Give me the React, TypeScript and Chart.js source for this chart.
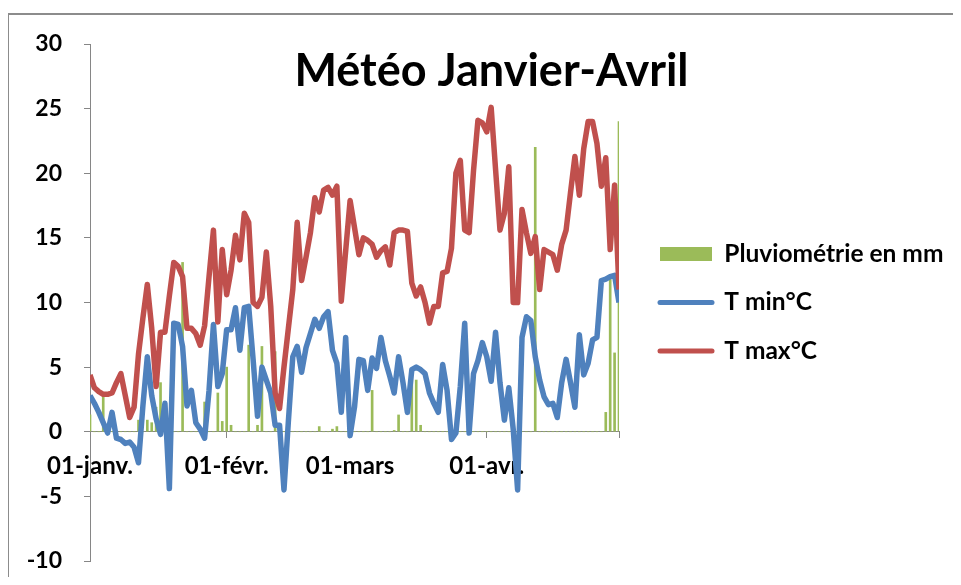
import React, { useEffect, useRef } from 'react';
import { Chart, registerables } from 'chart.js';

Chart.register(...registerables);

// ---- data (day index 0 = 01-janv.) ----
const tickDays = [0, 31, 59, 90, 120];
const tickLabels = ['01-janv.', '01-févr.', '01-mars', '01-avr.', ''];
const seriesNames = ['Pluviométrie en mm', 'T min°C', 'T max°C'];

const rain = [
  1.3, 0, 0, 3.0, 0, 0, 0, 0, 0, 0,
  0, 0.9, 0, 0.9, 0.7, 1.9, 3.8, 0, 0, 0,
  0, 13.1, 0, 0, 0, 0, 2.3, 0, 0, 3.0,
  0.8, 5.0, 0.5, 0, 0, 0, 6.7, 0, 0.5, 6.6,
  0, 0, 6.2, 0, 0, 0, 0, 0, 0, 0,
  0, 0, 0.4, 0, 0, 0.2, 0.4, 0, 0, 0,
  0, 0, 0, 0, 3.2, 0, 0, 0, 0, 0.1,
  1.3, 0, 0, 4.4, 4.0, 0.5, 0, 0, 0, 0,
  0, 0, 0, 0, 0, 0, 0, 0, 0, 0,
  0, 0, 0, 0, 0, 0, 0, 0, 0, 0,
  0, 22.0, 0, 0, 0, 0, 0, 0, 0, 0,
  0, 0, 0, 0, 0, 0, 0, 1.5, 11.9, 6.1,
  24.0,
];

const tmin = [
  2.8, 2.2, 1.5, 0.7, -0.1, 1.5, -0.5, -0.6, -0.9, -0.8,
  -1.2, -2.4, 2.0, 5.8, 2.8, 1.0, -0.2, 2.2, -4.4, 8.4,
  8.3, 6.6, 2.0, 3.2, 0.7, 0.2, -0.5, 3.2, 8.3, 3.5,
  4.5, 7.9, 7.9, 9.6, 6.3, 9.6, 9.7, 5.6, 1.2, 5.0,
  4.0, 3.0, 0.5, 0.5, -4.5, 0.8, 5.8, 6.6, 4.6, 6.5,
  7.6, 8.7, 8.0, 8.9, 9.3, 6.3, 5.3, 1.5, 7.3, -0.3,
  1.9, 5.6, 5.5, 3.2, 5.7, 4.9, 7.3, 5.5, 4.3, 3.0,
  5.8, 3.8, 1.5, 4.8, 5.0, 4.8, 4.5, 3.0, 2.2, 1.5,
  5.2, 3.2, -0.6, -0.1, 3.5, 8.4, -0.1, 4.5, 5.5, 6.9,
  5.8, 3.9, 7.7, 3.8, 0.9, 3.4, 0.2, -4.5, 7.3, 8.9,
  8.6, 5.8, 4.0, 2.7, 2.1, 2.2, 1.1, 3.8, 5.6, 3.8,
  1.9, 7.5, 4.4, 5.3, 7.1, 7.3, 11.7, 11.8, 12.0, 12.1,
  10.0,
];

const tmax = [
  4.4, 3.4, 3.1, 2.9, 2.9, 3.0, 3.8, 4.5, 2.8, 1.1,
  1.9, 6.0, 8.8, 11.4, 8.0, 3.5, 7.7, 7.7, 10.5, 13.1,
  12.8, 12.0, 8.0, 8.0, 7.6, 6.7, 8.2, 12.0, 15.6, 8.5,
  14.1, 10.6, 12.5, 15.2, 13.3, 16.9, 16.2, 10.0, 9.7, 10.4,
  13.9, 9.7, 3.0, 1.8, 5.0, 8.0, 11.0, 16.2, 11.7, 13.5,
  15.4, 18.1, 17.0, 18.7, 18.9, 18.3, 19.0, 10.1, 14.0, 17.9,
  15.8, 13.7, 15.0, 14.8, 14.5, 13.5, 14.0, 14.3, 12.9, 15.4,
  15.6, 15.6, 15.5, 11.5, 10.5, 11.2, 10.0, 8.4, 9.7, 9.7,
  12.3, 12.4, 14.2, 20.0, 21.0, 15.6, 15.4, 20.2, 24.1, 23.9,
  23.2, 25.1, 20.3, 15.6, 16.9, 20.5, 10.0, 10.0, 17.2, 15.4,
  13.8, 15.1, 11.0, 14.1, 13.9, 13.7, 12.5, 14.5, 15.6, 18.5,
  21.3, 18.3, 21.9, 24.0, 24.0, 22.3, 19.0, 21.2, 14.1, 19.1,
  11.0,
];

const VIS_W = 945;
const H = 569;
const FONT = 'Lato';
const titleCenter = 483.5;
const CW = Math.round(2 * titleCenter); // canvas wider than the visible area so the title centre matches

export default function App() {
  const ref = useRef<HTMLCanvasElement>(null);

  useEffect(() => {
    const canvas = ref.current;
    if (!canvas) return;
    const legendSize = 24.5;
    const boxW = 52;
    const legendPad = 24;
    const boxStart = 652;
    const plotLeft = 82;
    const plotRight = 611;

    const mctx = canvas.getContext('2d')!;
    mctx.font = `bold ${legendSize}px ${FONT}`;
    const maxText = Math.max(...seriesNames.map((s) => mctx.measureText(s).width));
    const itemW = boxW + legendSize / 2 + maxText;
    const padRight = Math.max(0, CW - boxStart - 10 - itemW);
    const gap = boxStart - legendPad - plotRight;

    const toXY = (arr: number[]) => arr.map((v, i) => ({ x: i, y: v }));

    const chart = new Chart(canvas, {
      type: 'line',
      data: {
        datasets: [
          {
            type: 'bar',
            label: seriesNames[0],
            data: toXY(rain),
            backgroundColor: '#9BBB59',
            borderWidth: 0,
            barThickness: 2,
            order: 2,
          } as any,
          {
            type: 'line',
            label: seriesNames[1],
            data: toXY(tmin),
            borderColor: '#4F81BD',
            backgroundColor: '#4F81BD',
            pointBorderColor: '#4F81BD',
            borderWidth: 5.5,
            pointRadius: 0,
            tension: 0,
            borderJoinStyle: 'round',
            order: 1,
          },
          {
            type: 'line',
            label: seriesNames[2],
            data: toXY(tmax),
            borderColor: '#C0504D',
            backgroundColor: '#C0504D',
            pointBorderColor: '#C0504D',
            borderWidth: 5.5,
            pointRadius: 0,
            tension: 0,
            borderJoinStyle: 'round',
            order: 0,
          },
        ],
      },
      options: {
        animation: false,
        responsive: false,
        events: [],
        layout: { padding: { left: 0, right: 0, top: 0, bottom: 16 } },
        font: { family: FONT },
        scales: {
          x: {
            type: 'linear',
            min: 0,
            max: 120,
            position: { y: 0 } as any,
            offset: false,
            afterBuildTicks: (s: any) => {
              s.ticks = tickDays.map((v) => ({ value: v }));
            },
            ticks: {
              autoSkip: false,
              maxRotation: 0,
              minRotation: 0,
              color: '#000',
              font: { family: FONT, size: 24, weight: 'bold' },
              padding: 14,
              callback: (v: any) => {
                const k = tickDays.indexOf(Number(v));
                return k >= 0 ? tickLabels[k] : '';
              },
            },
            grid: { drawOnChartArea: false, tickLength: 6, color: '#868686', offset: false },
            border: { color: '#868686', width: 1 },
          },
          y: {
            type: 'linear',
            position: 'left',
            min: -10,
            max: 30,
            ticks: {
              stepSize: 5,
              color: '#000',
              font: { family: FONT, size: 23, weight: 'bold' },
              padding: 22,
              callback: (v: any) => String(v),
            },
            grid: { drawOnChartArea: false, tickLength: 6, color: '#868686' },
            border: { color: '#868686', width: 1 },
            afterFit: (s: any) => {
              s.width = plotLeft;
              s.paddingTop = 12;
              s.paddingBottom = 12;
            },
          },
          yGap: {
            type: 'linear',
            position: 'right',
            display: true,
            weight: 0,
            grid: { display: false },
            ticks: { display: false },
            border: { display: false },
            afterFit: (s: any) => {
              s.width = gap;
            },
          },
          yPad: {
            type: 'linear',
            position: 'right',
            display: true,
            weight: 3000,
            grid: { display: false },
            ticks: { display: false },
            border: { display: false },
            afterFit: (s: any) => {
              s.width = padRight;
            },
          },
        },
        plugins: {
          tooltip: { enabled: false },
          title: {
            display: true,
            text: 'Météo Janvier-Avril',
            color: '#000',
            font: { family: FONT, size: 45, weight: 'bold', lineHeight: 1.2 },
            padding: { top: 36, bottom: -54 },
          },
          legend: {
            display: true,
            position: 'right',
            align: 'center',
            fullSize: false,
            maxWidth: 600,
            labels: {
              usePointStyle: true,
              pointStyleWidth: boxW,
              boxWidth: boxW,
              boxHeight: 14,
              padding: legendPad,
              color: '#000',
              font: { family: FONT, size: legendSize, weight: 'bold' },
              generateLabels: (ch: any) => {
                const items = (Chart.defaults.plugins.legend.labels as any).generateLabels(ch);
                items.forEach((it: any) => {
                  if (it.datasetIndex === 0) {
                    it.pointStyle = 'rect';
                    it.lineWidth = 0;
                  } else {
                    it.pointStyle = 'line';
                    it.lineWidth = 5;
                    it.lineCap = 'round';
                  }
                });
                return items.sort((a: any, b: any) => a.datasetIndex - b.datasetIndex);
              },
            },
          },
        },
      } as any,
    });
    return () => chart.destroy();
  }, []);

  return (
    <div style={{ position: 'relative', width: VIS_W, height: H, overflow: 'hidden', background: '#fff' }}>
      <div
        style={{
          position: 'absolute',
          left: -1,
          top: 5,
          width: 1000,
          height: 700,
          border: '2px solid #8c8c8c',
          boxSizing: 'border-box',
        }}
      />
      <canvas ref={ref} width={CW} height={H} style={{ position: 'absolute', left: 0, top: 0 }} />
    </div>
  );
}
